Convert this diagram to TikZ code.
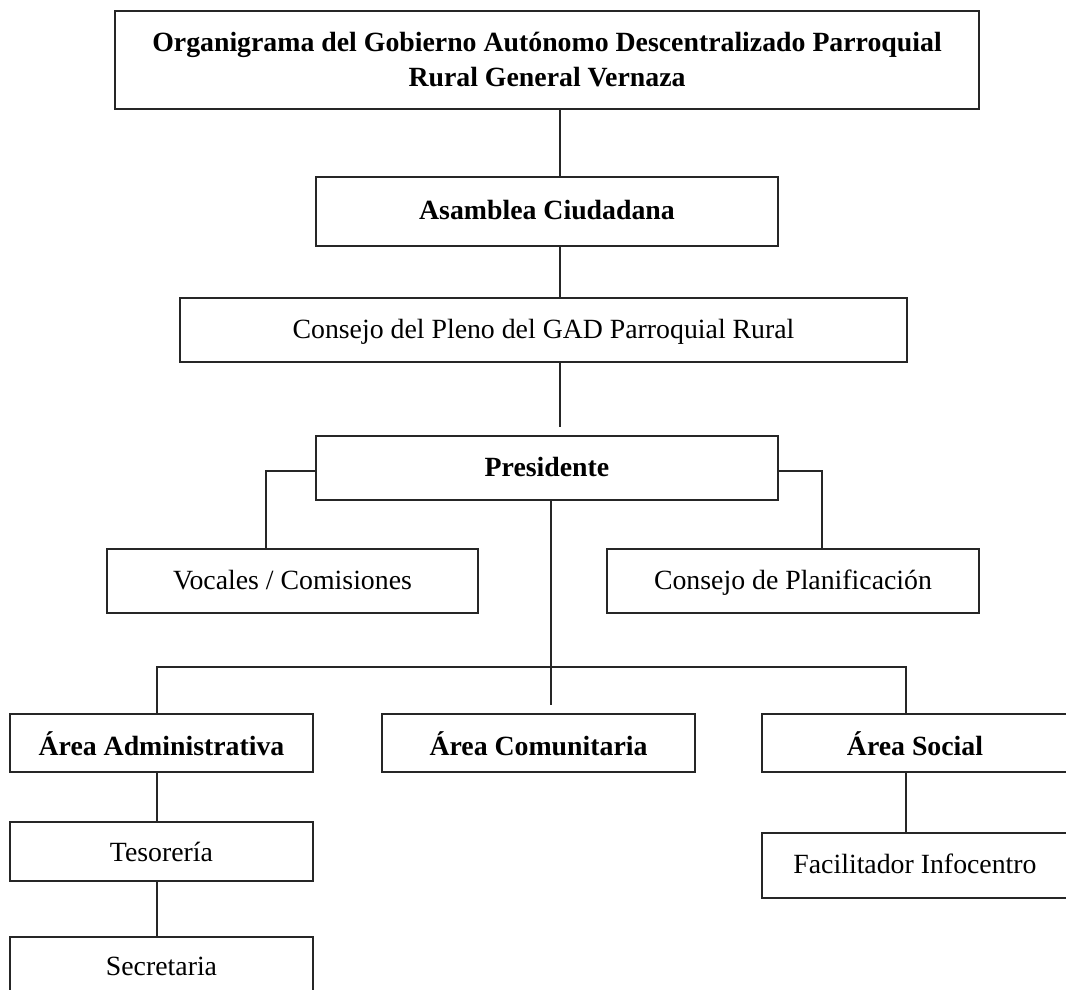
\documentclass[tikz,border=0pt]{standalone}
\usepackage{fontspec}
\setmainfont{Liberation Serif}
\usepackage{tikz}
\usetikzlibrary{calc,positioning}

\begin{document}
\begin{tikzpicture}[x=0.5pt,y=-0.5pt,line width=0.7pt,color=black!85,
  caja/.style={rectangle,draw,inner sep=0pt,text=black,
    align=center,font=\fontsize{13.9}{17.5}\selectfont},
  linea/.style={caja,text height=10pt,text depth=2pt},
  area/.style={caja,text height=13pt,text depth=1pt}]
\useasboundingbox (0,0) rectangle (1066,990);
\clip (0,0) rectangle (1066,990);

\node (org) at (547,60) [caja,minimum width=432pt,minimum height=49pt]
  {\textbf{Organigrama del Gobierno Autónomo Descentralizado Parroquial}\\\textbf{Rural General Vernaza}};
\node (asam) at (547,211.5) [linea,minimum width=231pt,minimum height=34.5pt] {\textbf{Asamblea Ciudadana}};
\node (pleno) at (543.5,330) [linea,minimum width=363.5pt,minimum height=32pt] {Consejo del Pleno del GAD Parroquial Rural};
\node (pres) at (547,468) [linea,minimum width=231pt,minimum height=32pt] {\textbf{Presidente}};
\node (voc) at (292.5,581) [linea,minimum width=185.5pt,minimum height=32pt] {Vocales / Comisiones};
\node (plan) at (793,581) [linea,minimum width=186pt,minimum height=32pt] {Consejo de Planificación};
\node (adm) at (161.5,743) [area,minimum width=151.5pt,minimum height=29pt] {\textbf{Área Administrativa}};
\node (com) at (538.5,743) [area,minimum width=156.5pt,minimum height=29pt] {\textbf{Área Comunitaria}};
\node (soc) at (915,743) [area,minimum width=153pt,minimum height=29pt] {\textbf{Área Social}};
\node (teso) at (161.5,851.5) [caja,text height=11pt,text depth=1pt,minimum width=151.5pt,minimum height=29.5pt] {Tesorería};
\node (secre) at (161.5,967) [linea,minimum width=151.5pt,minimum height=30pt] {Secretaria};
\node (faci) at (915,865.5) [linea,minimum width=153pt,minimum height=32.5pt] {Facilitador Infocentro};

% ejes de las lineas
\coordinate (eje) at (560,0);
\coordinate (presin) at (560,427);
\coordinate (ejeV) at (266,0);
\coordinate (ejeP) at (822,0);
\coordinate (busC) at (551,705);
\coordinate (busL) at (157,667);
\coordinate (busR) at (906,667);

\draw (org.south -| eje) -- (asam.north -| eje);
\draw (asam.south -| eje) -- (pleno.north -| eje);
\draw (pleno.south -| eje) -- (presin);
\draw ([yshift=-1.5pt]pres.west) -| (voc.north -| ejeV);
\draw ([yshift=-1.5pt]pres.east) -| (plan.north -| ejeP);
\draw (pres.south -| busC) -- (busC);
\draw (adm.north -| busL) -- (busL) -- (busR) -- (soc.north -| busR);
\draw (adm.south -| busL) -- (teso.north -| busL);
\draw (teso.south -| busL) -- (secre.north -| busL);
\draw (soc.south -| busR) -- (faci.north -| busR);

\end{tikzpicture}
\end{document}
